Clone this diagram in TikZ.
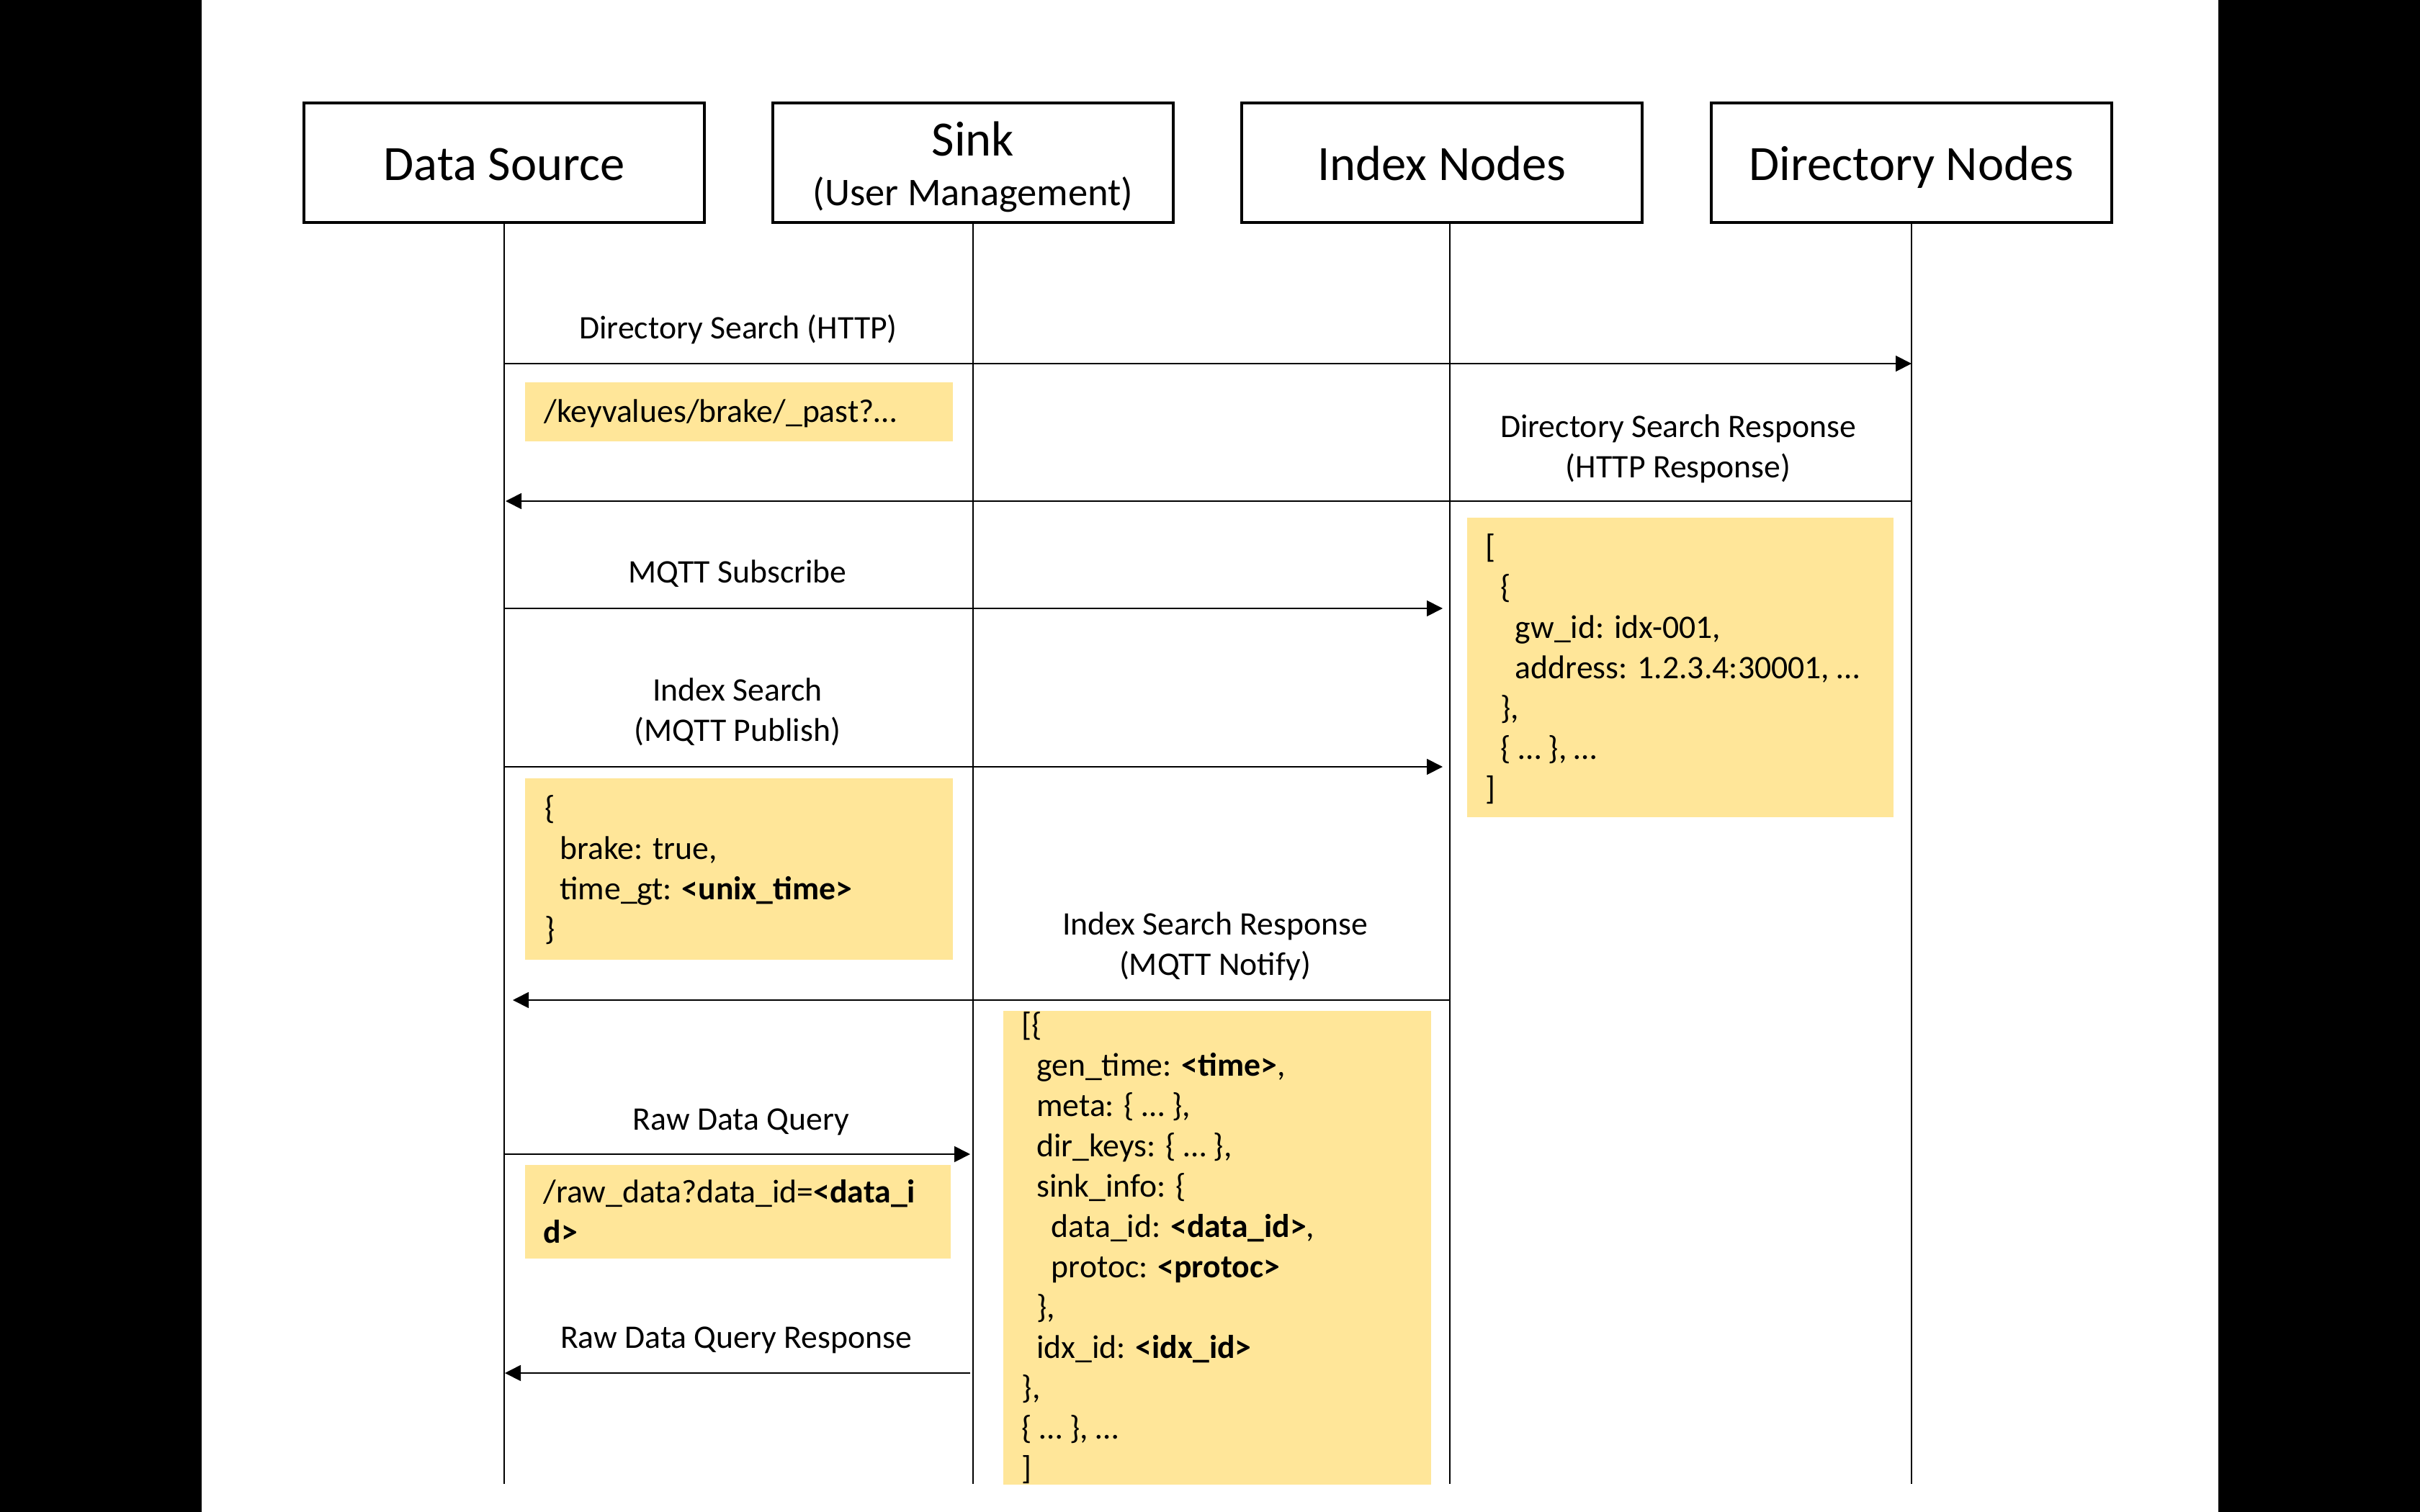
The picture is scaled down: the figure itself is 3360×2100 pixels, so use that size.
\documentclass[tikz,border=0pt]{standalone}
\usepackage{fontspec}
\setmainfont{Carlito}
\usetikzlibrary{arrows.meta,calc}
\definecolor{ylw}{HTML}{FFE699}
\newcommand\hdrsize{\fontsize{19.5}{23}\selectfont}
\newcommand\lblsize{\fontsize{13}{15.93}\selectfont}
\newcommand\subsize{\fontsize{15.5}{18}\selectfont}
\newcommand\mystrut{\rule{0pt}{11.38pt}}
\newcommand\ind{\hspace*{2.06mm}}
\begin{document}
\begin{tikzpicture}[x=0.1mm,y=-0.1mm,
  hdr/.style={draw, line width=0.45mm, minimum width=55.6mm, minimum height=16.6mm, inner sep=0pt, font=\hdrsize, text height=14.2pt, text depth=0pt},
  life/.style={line width=0.18mm},
  msg/.style={line width=0.18mm, -{Triangle[length=2.2mm,width=2.2mm]}},
  lbl/.style={font=\lblsize, inner sep=0pt, align=center},
  ybox/.style={fill=ylw, inner sep=0pt, anchor=north west},
  code/.style={font=\lblsize, inner sep=0pt, align=left, anchor=north west}]
\useasboundingbox (0,0) rectangle (3360,2100);
\fill[black] (0,0) rectangle (280,2100);
\fill[black] (3080,0) rectangle (3360,2100);

% participants
\node[hdr] (ds) at (700,226) {Data Source};
\node[hdr, text height=0pt, text depth=5.12pt] (sink) at (1351,226) {Sink};
\node[lbl, font=\subsize, anchor=base] (sinksub) at (1351,286) {(User Management)};
\node[hdr] (idx) at (2002,226) {Index Nodes};
\node[hdr] (dir) at (2654,226) {Directory Nodes};

\begin{scope}
\clip (280,0) rectangle (3080,2061);
% note boxes
\node[ybox, minimum width=59.4mm, minimum height=8.2mm] (kvbox) at (728,530) {};
\node[code] (kvtext) at (755,546) {\mystrut/keyvalues/brake/\_past?…};

\node[ybox, minimum width=59.2mm, minimum height=41.6mm] (dirbox) at (2036,718) {};
\node[code] (dirtext) at (2062,734) {\mystrut[\\
\ind\{\\
\ind\ind gw\_id: idx-001,\\
\ind\ind address: 1.2.3.4:30001, …\\
\ind\},\\
\ind\{ … \}, …\\
]};

\node[ybox, minimum width=59.4mm, minimum height=25.2mm] (qbox) at (728,1080) {};
\node[code] (qtext) at (756,1097) {\mystrut\{\\
\ind brake: true,\\
\ind time\_gt: \textbf{<unix\_time>}\\
\}};

\node[ybox, minimum width=59.4mm, minimum height=65.8mm] (resbox) at (1392,1403) {};
\node[code] (restext) at (1418,1398) {\mystrut[\{\\
\ind gen\_time: \textbf{<time>},\\
\ind meta: \{ … \},\\
\ind dir\_keys: \{ … \},\\
\ind sink\_info: \{\\
\ind\ind data\_id: \textbf{<data\_id>},\\
\ind\ind protoc: \textbf{<protoc>}\\
\ind\},\\
\ind idx\_id: \textbf{<idx\_id>}\\
\},\\
\{ … \}, …\\
]};

\node[ybox, minimum width=59.1mm, minimum height=13.0mm] (rawbox) at (728,1617) {};
\node[code] (rawtext) at (754,1630) {\mystrut/raw\_data?data\_id=\textbf{<data\_i}\\
\textbf{d>}};

% lifelines
\coordinate (bot) at (0,2061);
\coordinate (idxL) at (2013,311);
\draw[life] (ds.south) -- (ds.south |- bot);
\draw[life] (sink.south) -- (sink.south |- bot);
\draw[life] (idxL) -- (idxL |- bot);
\draw[life] (dir.south) -- (dir.south |- bot);
\end{scope}

% message end points
\coordinate (m1a) at (700,505);  \coordinate (m1b) at (2654,505);
\coordinate (m2a) at (2654,696); \coordinate (m2b) at (702,696);
\coordinate (m3a) at (700,845);  \coordinate (m3b) at (2003,845);
\coordinate (m4a) at (700,1065); \coordinate (m4b) at (2003,1065);
\coordinate (m5a) at (2013,1389);\coordinate (m5b) at (712,1389);
\coordinate (m6a) at (700,1603); \coordinate (m6b) at (1347,1603);
\coordinate (m7a) at (1347,1907);\coordinate (m7b) at (701,1907);

\draw[msg] (m1a) -- (m1b);
\draw[msg] (m2a) -- (m2b);
\draw[msg] (m3a) -- (m3b);
\draw[msg] (m4a) -- (m4b);
\draw[msg] (m5a) -- (m5b);
\draw[msg] (m6a) -- (m6b);
\draw[msg] (m7a) -- (m7b);

% message labels
\node[lbl, anchor=base] (l1) at (1025,470) {Directory Search (HTTP)};
\node[lbl, anchor=north] (l2) at (2330,567) {\mystrut Directory Search Response\\(HTTP Response)};
\node[lbl, anchor=base] (l3) at (1024,809) {MQTT Subscribe};
\node[lbl, anchor=north] (l4) at (1024,933) {\mystrut Index Search\\(MQTT Publish)};
\node[lbl, anchor=north] (l5) at (1687,1258) {\mystrut Index Search Response\\(MQTT Notify)};
\node[lbl, anchor=base] (l6) at (1029,1569) {Raw Data Query};
\node[lbl, anchor=base] (l7) at (1022,1872) {Raw Data Query Response};
\end{tikzpicture}
\end{document}
